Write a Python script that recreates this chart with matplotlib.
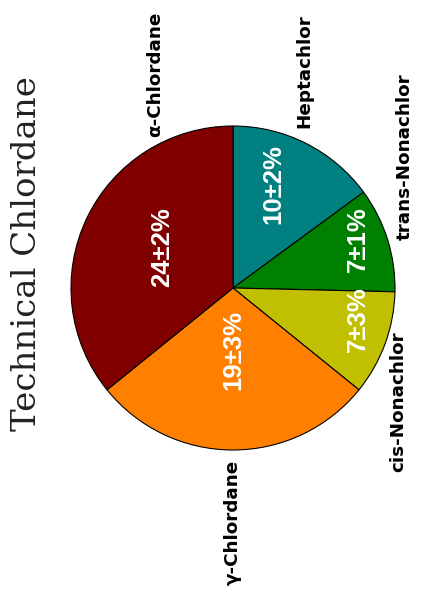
import matplotlib.pyplot as plt

# composition of technical chlordane (%)
components = ['Heptachlor', 'trans-Nonachlor', 'cis-Nonachlor', 'γ-Chlordane', 'α-Chlordane']
values = [10, 7, 7, 19, 24]
errors = [2, 1, 3, 3, 2]
colors = ['#008080', '#008000', '#c0c000', '#ff8000', '#800000']

# label placement (pie radius = 1), rotated text
name_pos = [(0.44, 0.99, 'bottom'), (1.06, 0.81, 'center'), (1.02, -0.27, 'top'),
            (0.0, -1.06, 'top'), (-0.48, 0.93, 'bottom')]
pct_pos = [(0.25, 0.64), (0.77, 0.30), (0.77, -0.19), (0.0, -0.38), (-0.44, 0.25)]

fig = plt.figure(figsize=(4.21, 5.97), dpi=100)
ax = fig.add_axes([0, 0, 1, 1])

wedges, _ = ax.pie(values, colors=colors, startangle=90, counterclock=False,
                   radius=1, wedgeprops=dict(edgecolor='black', linewidth=0.8))

for (x, y, va), name in zip(name_pos, components):
    ax.text(x, y, name, rotation=90, ha='center', va=va,
            fontsize=13.2, fontweight='bold', family='DejaVu Sans')

for (x, y), v, e in zip(pct_pos, values, errors):
    ax.text(x, y, f'{v}±{e}%', rotation=90, ha='center', va='center', color='white',
            fontsize=18.5, fontweight='bold', family=['Liberation Sans', 'DejaVu Sans'])

# title runs up the left side
ax.text(-1.27, 0.21, 'Technical Chlordane', rotation=90, ha='center', va='center',
        fontsize=24.5, family='DejaVu Serif', color='#222222')

# centre at (233, 288) px, radius 162 px
r = 162.0
ax.set_xlim(-233 / r, (421 - 233) / r)
ax.set_ylim(-(597 - 288) / r, 288 / r)
ax.set_aspect('auto')
ax.axis('off')

fig.savefig('out.png', dpi=100)
